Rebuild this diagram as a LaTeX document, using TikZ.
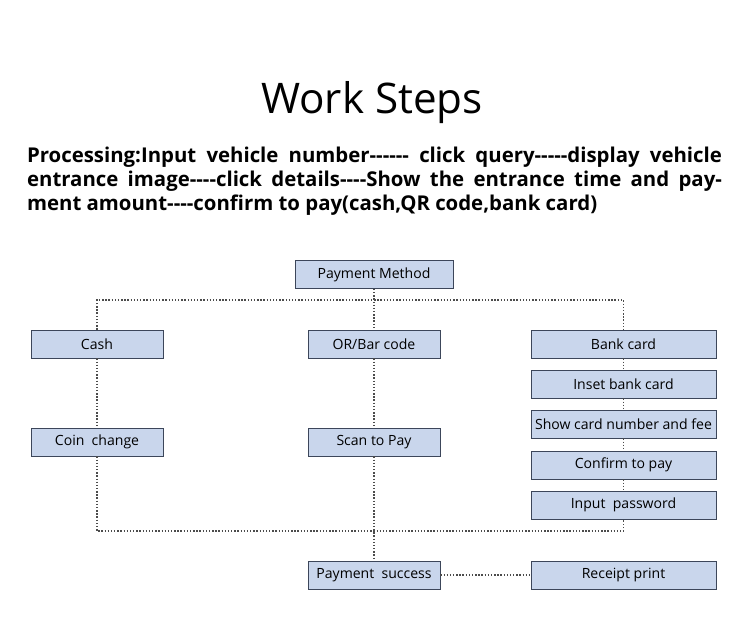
\documentclass[tikz,border=0pt]{standalone}
\usepackage{fontspec}
\setmainfont{Open Sans}
\definecolor{boxfill}{RGB}{201,214,236}
\definecolor{boxline}{RGB}{60,70,90}
\newcommand\hy{-{}}
\begin{document}
\begin{tikzpicture}[x=0.02cm,y=-0.02cm]

\tikzstyle{pbox}=[rectangle, draw=boxline, fill=boxfill, minimum height=0.56cm, font=\fontsize{8}{10}\selectfont, inner sep=0pt]
\tikzstyle{small}=[pbox, minimum width=2.64cm]
\tikzstyle{wide}=[pbox, minimum width=3.7cm]
\tikzstyle{link}=[densely dotted, thick, color=black!70]

\useasboundingbox (0,0) rectangle (750,627);

\node (title) at (372,103) {\fontsize{24}{30}\selectfont Work Steps};
\node (text) [text width=13.9cm, align=justify, inner sep=0pt, font=\bfseries\fontsize{11.6}{13.6}\selectfont] at (374.5,181)
  {Processing:Input vehicle number\hy\hy\hy\hy\hy\hy{} click query\hy\hy\hy\hy\hy display vehicle entrance image\hy\hy\hy\hy click details\hy\hy\hy\hy Show the entrance time and pay\-ment amount\hy\hy\hy\hy confirm to pay(cash,QR code,bank card)};

\node (pm) [pbox, minimum width=3.16cm] at (374,274.5) {Payment Method};
\node (cash) [small] at (97,344) {Cash};
\node (qr) [small] at (374,344) {OR/Bar code};
\node (bank) [wide] at (623.5,344) {Bank card};
\node (inset) [wide] at (623.5,384) {Inset bank card};
\node (show) [wide] at (623.5,424) {Show card number and fee};
\node (confirm) [wide] at (623.5,465) {Confirm to pay};
\node (pwd) [wide] at (623.5,505) {Input\ \ password};
\node (coin) [small] at (97,442) {Coin\ \ change};
\node (scan) [small] at (374,442) {Scan to Pay};
\node (success) [small] at (374,575) {Payment\ \ success};
\node (receipt) [wide] at (623.5,575) {Receipt print};

\coordinate (top) at (374,300);
\coordinate (low) at (374,531);

\draw [link] (pm) -- (qr);
\draw [link] (cash.north) |- (top) -| (bank.north);
\draw [link] (cash) -- (coin);
\draw [link] (bank) -- (inset);
\draw [link] (inset) -- (show);
\draw [link] (show) -- (confirm);
\draw [link] (confirm) -- (pwd);
\draw [link] (coin.south) |- (low) -| (pwd.south);
\draw [link] (qr) -- (scan);
\draw [link] (scan) -- (success);
\draw [link] (success) -- (receipt);

\end{tikzpicture}
\end{document}
